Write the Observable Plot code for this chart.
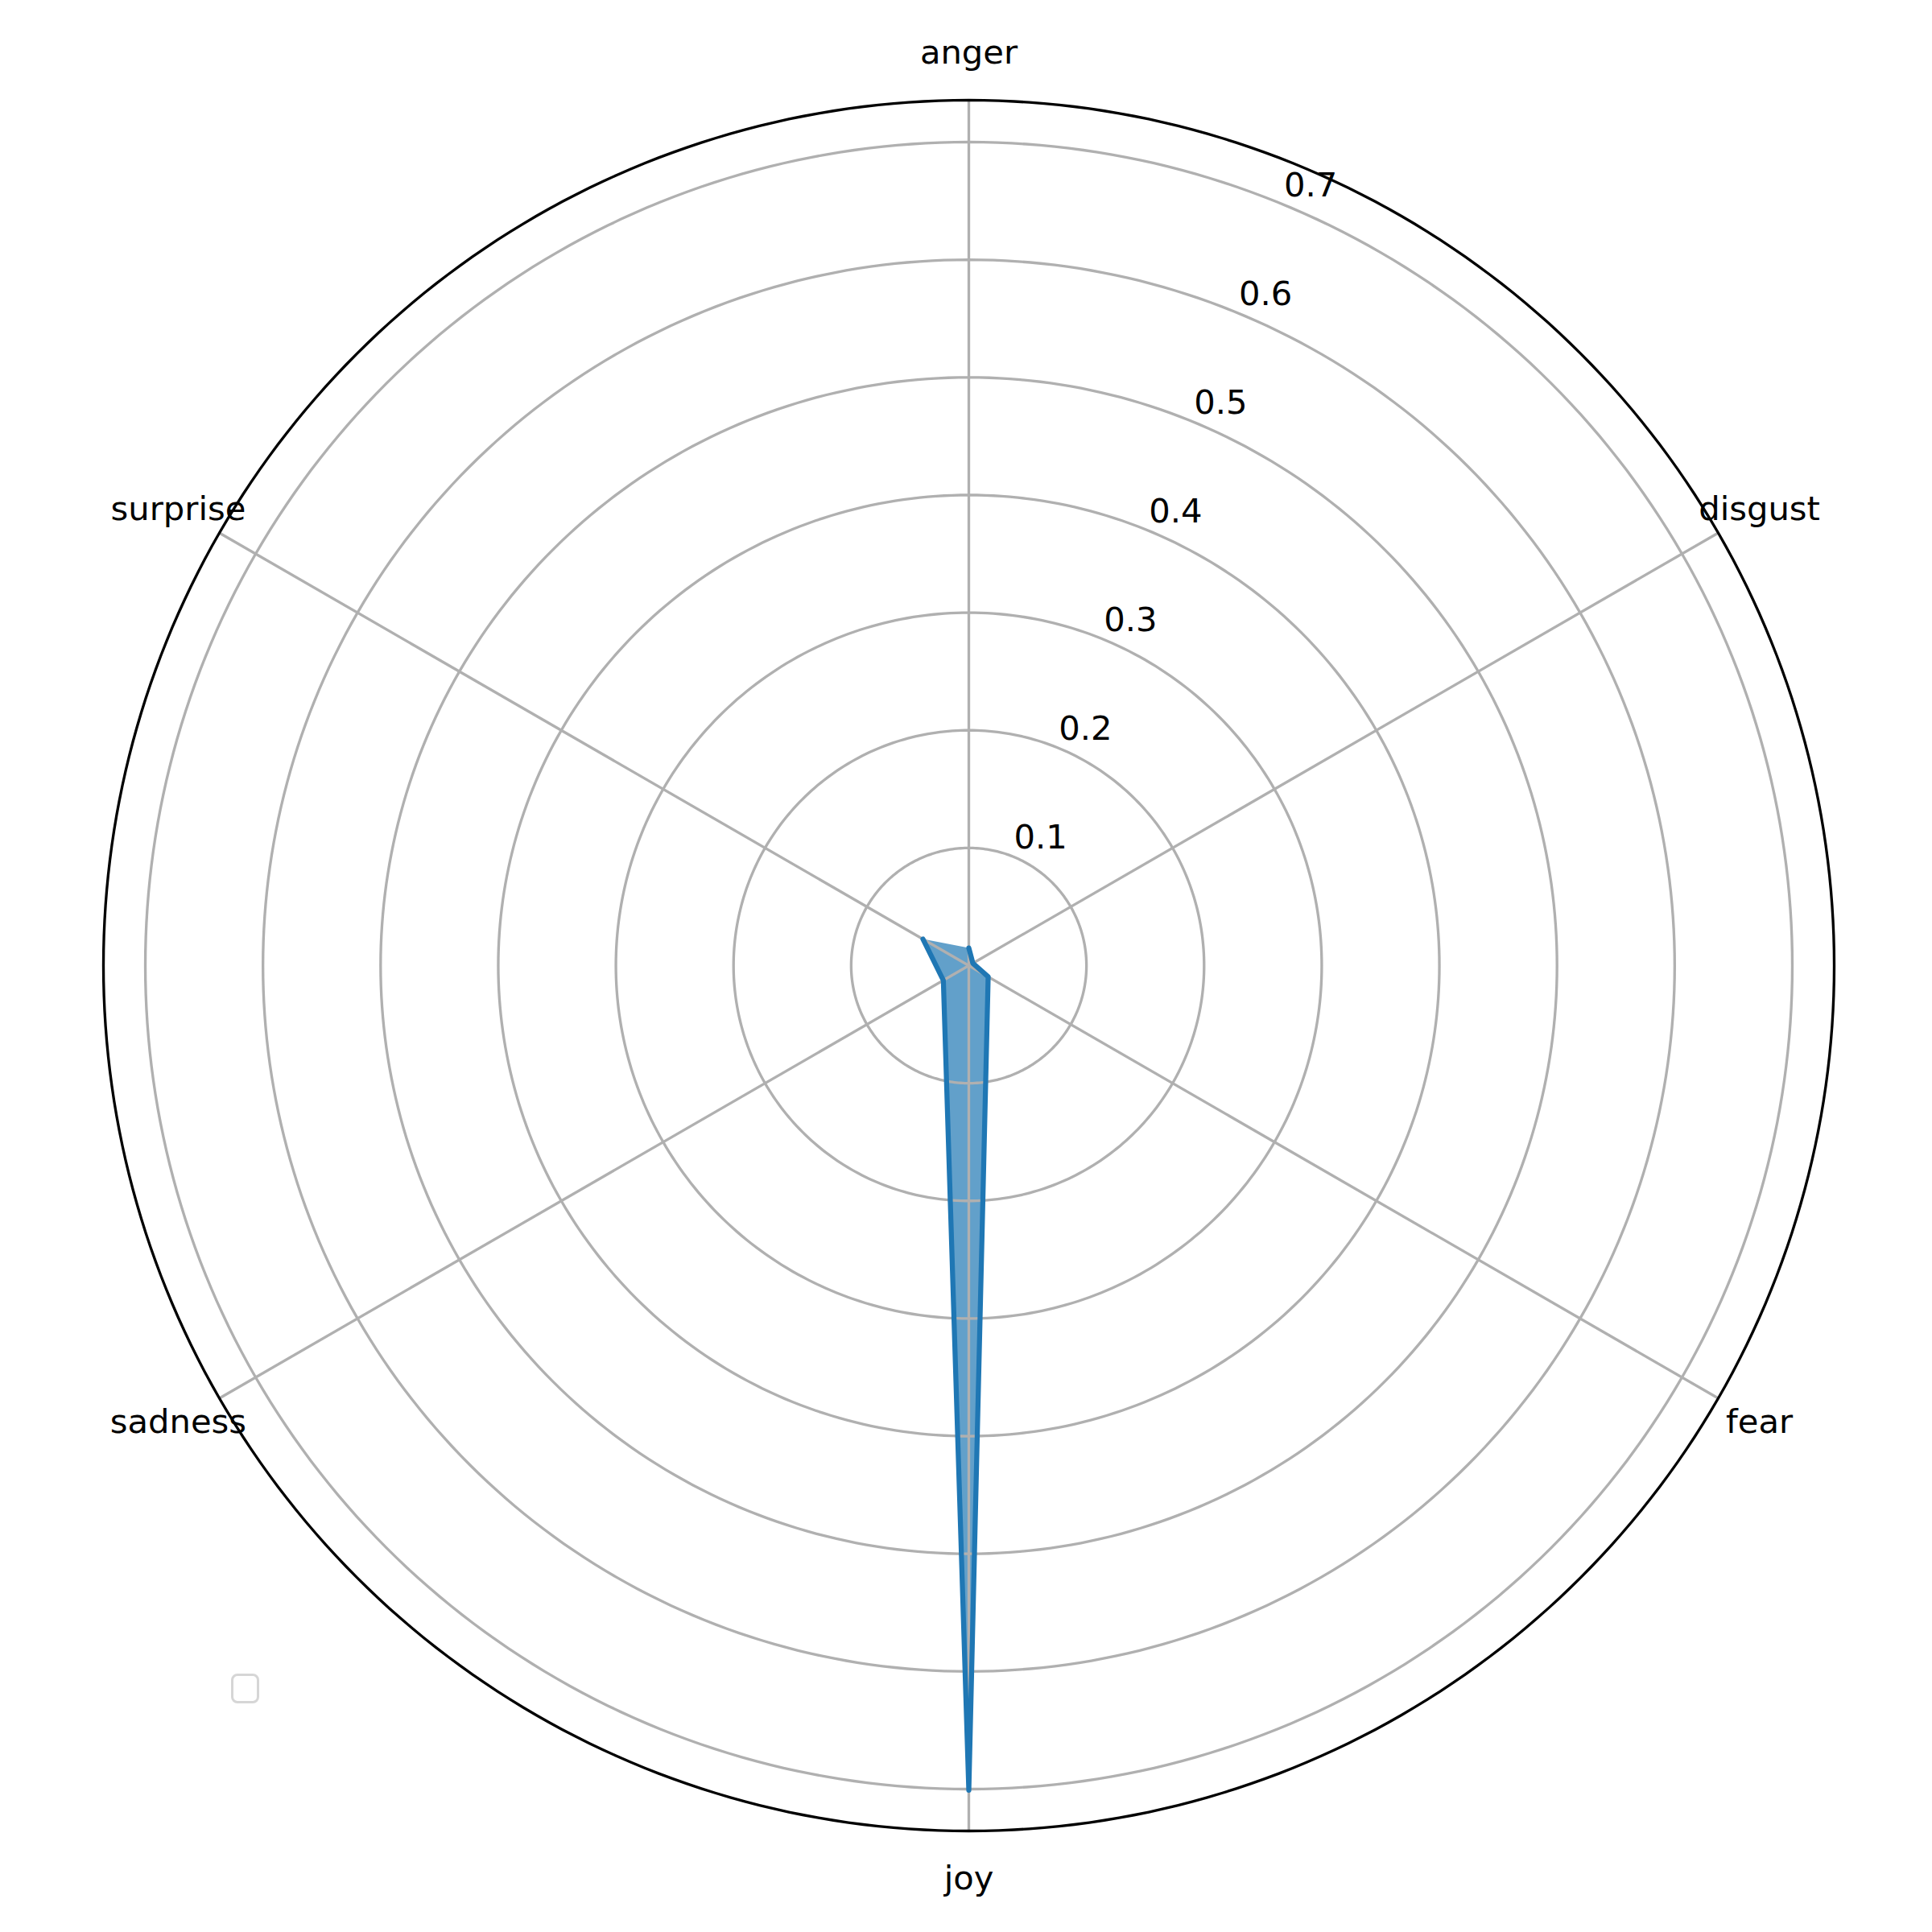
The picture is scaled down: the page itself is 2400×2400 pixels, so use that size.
<!DOCTYPE html>
<html>
<head>
<meta charset="utf-8">
<script src="https://cdn.jsdelivr.net/npm/d3@7"></script>
<script src="https://cdn.jsdelivr.net/npm/@observablehq/plot@0.6"></script>
<style>
  html, body { margin: 0; padding: 0; background: #fff; }
  #wrap { position: relative; width: 2400px; height: 2400px; }
  #legend { position: absolute; left: 287px; top: 2079px; width: 35px; height: 37px;
            box-sizing: border-box; border: 3px solid #d6d6d6; border-radius: 8px; background: #fff; }
</style>
</head>
<body>
<div id="wrap"><div id="legend"></div></div>
<script>
// ---- data ----
const categories = ["anger", "disgust", "fear", "joy", "sadness", "surprise"];
const values = [0.015, 0.004, 0.019, 0.701, 0.025, 0.045];
const rTicks = [0.1, 0.2, 0.3, 0.4, 0.5, 0.6, 0.7];
const rTickLabels = ["0.1", "0.2", "0.3", "0.4", "0.5", "0.6", "0.7"];
const rMax = 0.7356;

// ---- geometry helpers (polar -> cartesian, clockwise from top) ----
const W = 2400, H = 2400, cx = 1203, cy = 1199, R = 1075;
const k = R / rMax; // px per unit
const angleOf = i => i * 2 * Math.PI / categories.length;
const px = (r, a) => r * Math.sin(a);
const py = (r, a) => r * Math.cos(a);

const pts = categories.map((c, i) => ({c, v: values[i], x: px(values[i], angleOf(i)), y: py(values[i], angleOf(i))}));

const rings = [];
rTicks.forEach(t => { for (let d = 0; d <= 360; d += 1) { const a = d * Math.PI / 180; rings.push({t, x: px(t, a), y: py(t, a)}); } });
const outer = d3.range(0, 361).map(d => { const a = d * Math.PI / 180; return {x: px(rMax, a), y: py(rMax, a)}; });
const spokes = categories.map((c, i) => ({x2: px(rMax, angleOf(i)), y2: py(rMax, angleOf(i))}));
const labelR = rMax + 59 / k;
const catLabels = categories.map((c, i) => ({c, x: px(labelR, angleOf(i)), y: py(labelR, angleOf(i))}));
const tickAngle = 22.5 * Math.PI / 180;
const tickLabels = rTicks.map((t, i) => ({label: rTickLabels[i], x: px(t, tickAngle), y: py(t, tickAngle)}));

const font = "DejaVu Sans";
const fs = 41.7;
const blue = "#1f77b4";
const grid = "#b0b0b0";

const chart = Plot.plot({
  width: W, height: H,
  margin: 0,
  style: {background: "white", fontFamily: font},
  x: {domain: [-cx / k, (W - cx) / k], range: [0, W], axis: null},
  y: {domain: [-(H - cy) / k, cy / k], range: [H, 0], axis: null},
  marks: [
    Plot.line(pts, {x: "x", y: "y", curve: "linear-closed", fill: blue, fillOpacity: 0.7, stroke: "none"}),
    Plot.line(rings, {x: "x", y: "y", z: "t", stroke: grid, strokeWidth: 3.33}),
    Plot.link(spokes, {x1: 0, y1: 0, x2: "x2", y2: "y2", stroke: grid, strokeWidth: 3.33}),
    Plot.line(pts, {x: "x", y: "y", stroke: blue, strokeWidth: 6.25, strokeLinejoin: "round"}),
    Plot.line(outer, {x: "x", y: "y", stroke: "black", strokeWidth: 3.33}),
    Plot.text(catLabels, {x: "x", y: "y", text: "c", fontSize: fs, fill: "black", textAnchor: "middle", lineAnchor: "middle"}),
    Plot.text(tickLabels, {x: "x", y: "y", text: "label", fontSize: fs, fill: "black", textAnchor: "start", lineAnchor: "bottom", dy: -10})
  ]
});
document.getElementById("wrap").prepend(chart);
</script>
</body>
</html>
